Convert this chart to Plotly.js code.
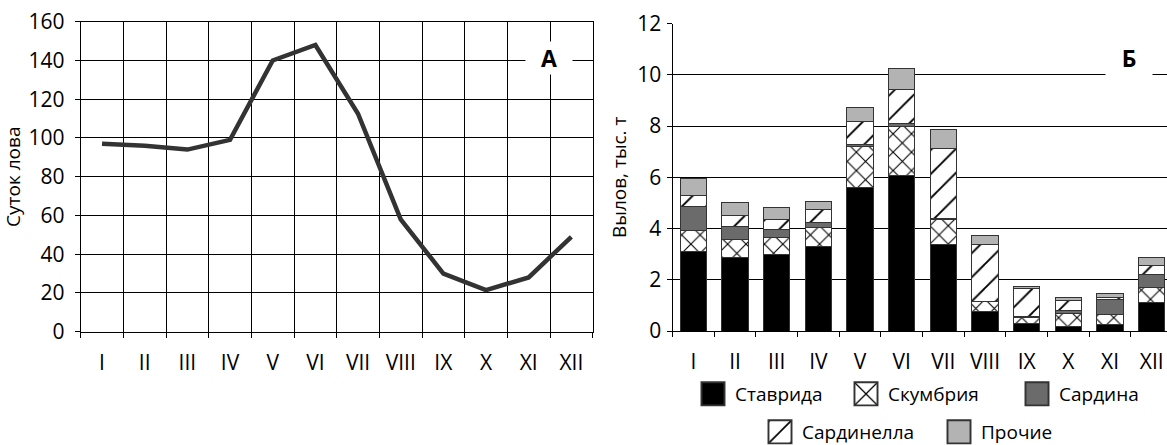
<!DOCTYPE html>
<html>
<head>
<meta charset="utf-8">
<script src="https://cdn.plot.ly/plotly-3.0.1.min.js"></script>
<style>
  html, body { margin: 0; padding: 0; background: #fff; }
  #chart { width: 1167px; height: 445px; }
</style>
</head>
<body>
<div id="chart"></div>
<script>
// ---- data ----
const months = ['I', 'II', 'III', 'IV', 'V', 'VI', 'VII', 'VIII', 'IX', 'X', 'XI', 'XII'];
const fishingDays = [97, 96, 94, 99, 140, 148, 112.5, 58, 30, 21.5, 28, 49];

const stavrida   = [3.12, 2.86, 2.97, 3.29, 5.61, 6.05, 3.36, 0.78, 0.30, 0.19, 0.27, 1.10];
const skumbria   = [0.81, 0.72, 0.66, 0.76, 1.58, 1.92, 0.99, 0.36, 0.23, 0.50, 0.38, 0.59];
const sardina    = [0.93, 0.48, 0.34, 0.17, 0.10, 0.14, 0.05, 0.03, 0.05, 0.10, 0.57, 0.52];
const sardinella = [0.44, 0.44, 0.40, 0.52, 0.87, 1.33, 2.71, 2.22, 1.08, 0.41, 0.08, 0.34];
const prochie    = [0.66, 0.53, 0.46, 0.33, 0.56, 0.82, 0.75, 0.33, 0.09, 0.10, 0.17, 0.33];

const leftTitle = 'Суток лова';
const rightTitle = 'Вылов, тыс. т';
const seriesNames = ['Ставрида', 'Скумбрия', 'Сардина', 'Сардинелла', 'Прочие'];

// ---- layout helpers ----
const W = 1167, H = 445;
const px = v => v / W;
const py = v => 1 - v / H;
const FONT = 'Open Sans, Noto Sans, sans-serif';
const outline = { color: '#333', width: 1 };

const traces = [
  {
    type: 'scatter', mode: 'lines', x: months, y: fishingDays,
    xaxis: 'x', yaxis: 'y', showlegend: false,
    line: { color: '#333', width: 4.5 }
  },
  {
    type: 'bar', name: seriesNames[0], x: months, y: stavrida, xaxis: 'x2', yaxis: 'y2',
    marker: { color: '#000', line: outline }, legend: 'legend'
  },
  {
    type: 'bar', name: seriesNames[1], x: months, y: skumbria, xaxis: 'x2', yaxis: 'y2',
    marker: { color: '#fff', line: outline,
      pattern: { shape: 'x', fgcolor: '#000', bgcolor: '#fff', size: 13, solidity: 0.16 } },
    legend: 'legend2'
  },
  {
    type: 'bar', name: seriesNames[2], x: months, y: sardina, xaxis: 'x2', yaxis: 'y2',
    marker: { color: '#6b6b6b', line: outline }, legend: 'legend3'
  },
  {
    type: 'bar', name: seriesNames[3], x: months, y: sardinella, xaxis: 'x2', yaxis: 'y2',
    marker: { color: '#fff', line: outline,
      pattern: { shape: '/', fgcolor: '#000', bgcolor: '#fff', size: 17, solidity: 0.11 } },
    legend: 'legend4'
  },
  {
    type: 'bar', name: seriesNames[4], x: months, y: prochie, xaxis: 'x2', yaxis: 'y2',
    marker: { color: '#b3b3b3', line: outline }, legend: 'legend5'
  }
];

const tickFont = { family: FONT, size: 21, color: '#000' };
const titleFont = { family: FONT, size: 19, color: '#000' };
const legendFont = { family: FONT, size: 19, color: '#000' };

function legendAt(xPix, yPix) {
  return {
    orientation: 'h', x: px(xPix), xanchor: 'left', y: py(yPix), yanchor: 'middle',
    font: legendFont, bgcolor: 'rgba(0,0,0,0)', traceorder: 'normal'
  };
}

const layout = {
  width: W, height: H,
  margin: { l: 0, r: 0, t: 0, b: 0, autoexpand: false },
  paper_bgcolor: '#fff', plot_bgcolor: '#fff',
  font: { family: FONT, color: '#000' },
  barmode: 'stack',
  bargap: 0.37,
  xaxis: {
    domain: [px(80.7), px(592.7)], anchor: 'y',
    type: 'category', range: [-0.5, 11.5],
    tickson: 'boundaries', ticks: 'outside', ticklen: 5, tickcolor: '#000',
    showgrid: true, gridcolor: '#000', gridwidth: 1,
    showline: true, linecolor: '#000', linewidth: 1, mirror: true,
    tickfont: tickFont, ticklabelstandoff: 12
  },
  yaxis: {
    domain: [py(331.7), py(21.7)], anchor: 'x',
    range: [0, 160], dtick: 20, zeroline: false,
    ticks: 'outside', ticklen: 5, tickcolor: '#000',
    showgrid: true, gridcolor: '#000', gridwidth: 1,
    showline: true, linecolor: '#000', linewidth: 1, mirror: true,
    tickfont: tickFont, ticklabelstandoff: 6,
    title: { text: leftTitle, font: titleFont, standoff: 3 }
  },
  xaxis2: {
    domain: [px(672.5), 1], anchor: 'y2',
    type: 'category', range: [-0.5, 11.367],
    tickson: 'boundaries', ticks: 'outside', ticklen: 5, tickcolor: '#000',
    showgrid: false,
    showline: true, linecolor: '#000', linewidth: 1,
    tickfont: tickFont, ticklabelstandoff: 12
  },
  yaxis2: {
    domain: [py(331), py(23.5)], anchor: 'x2',
    range: [0, 12], dtick: 2, zeroline: false,
    ticks: 'outside', ticklen: 5, tickcolor: '#000',
    showgrid: true, gridcolor: '#000', gridwidth: 1,
    showline: true, linecolor: '#000', linewidth: 1,
    tickfont: tickFont, ticklabelstandoff: 1,
    title: { text: rightTitle, font: titleFont, standoff: 5 }
  },
  legend:  legendAt(695, 394),
  legend2: legendAt(848, 394),
  legend3: legendAt(1019, 394),
  legend4: legendAt(762, 432),
  legend5: legendAt(941, 432),
  annotations: [
    {
      xref: 'paper', yref: 'paper', x: px(549.3), y: py(58.3),
      xanchor: 'center', yanchor: 'middle', text: '<b>A</b>', showarrow: false,
      font: { family: FONT, size: 23, color: '#000' },
      bgcolor: '#fff', width: 46, height: 32, borderpad: 0
    },
    {
      xref: 'paper', yref: 'paper', x: px(1129.3), y: py(58.3),
      xanchor: 'center', yanchor: 'middle', text: '<b>Б</b>', showarrow: false,
      font: { family: FONT, size: 23, color: '#000' },
      bgcolor: '#fff', width: 46, height: 36, borderpad: 0
    }
  ]
};

Plotly.newPlot('chart', traces, layout, { staticPlot: true, displayModeBar: false }).then(() => {
  document.querySelectorAll('.legendpoints path').forEach(p => {
    const t = p.getAttribute('transform') || '';
    p.setAttribute('transform', t + ' translate(-2,0) scale(1.92)');
  });
});
</script>
</body>
</html>
